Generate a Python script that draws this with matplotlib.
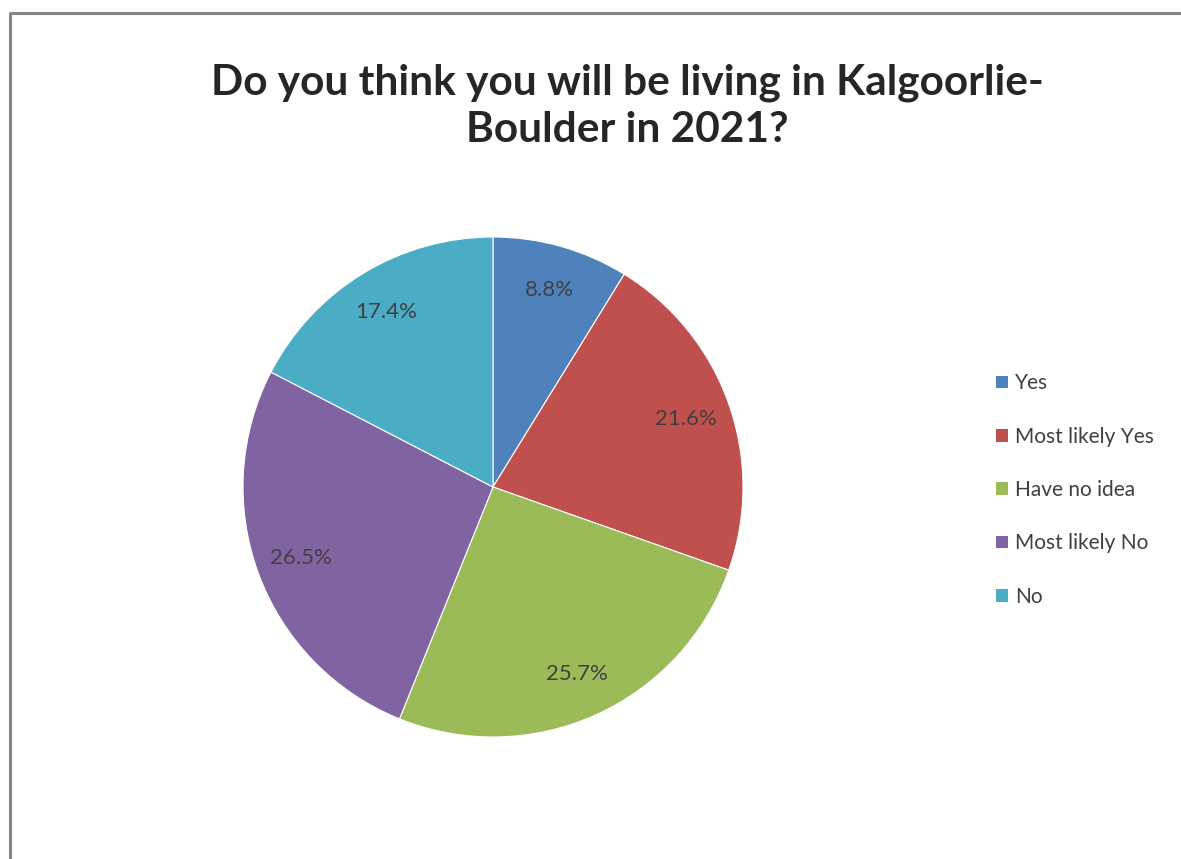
import matplotlib
matplotlib.use("Agg")
import matplotlib.pyplot as plt
from matplotlib.lines import Line2D
from matplotlib.patches import Patch

categories = ["Yes", "Most likely Yes", "Have no idea", "Most likely No", "No"]
values = [8.8, 21.6, 25.7, 26.5, 17.4]
colors = ["#4F81BD", "#C0504D", "#9BBB59", "#8064A2", "#4BACC6"]
title = "Do you think you will be living in Kalgoorlie-\nBoulder in 2021?"

plt.rcParams['font.family'] = ['Lato', 'DejaVu Sans']

W, H = 1181, 859
fig = plt.figure(figsize=(W / 100, H / 100), dpi=100)
fig.patch.set_facecolor("white")

# border (top and left)
fig.add_artist(Line2D([10 / W, 10 / W, 1.0], [0.0, 1 - 12.5 / H, 1 - 12.5 / H],
                      transform=fig.transFigure, color="#868686", lw=2.2))

cx, cy, R = 493, 487, 250
ax = fig.add_axes([(cx - R) / W, (H - cy - R) / H, 2 * R / W, 2 * R / H])
wedges, texts, autotexts = ax.pie(values, colors=colors, startangle=90, counterclock=False,
                                  autopct="%.1f%%", pctdistance=0.82, radius=1,
                                  wedgeprops=dict(edgecolor="white", linewidth=0.8),
                                  textprops=dict(fontsize=16, color="#404040"))
ax.set_xlim(-1, 1)
ax.set_ylim(-1, 1)
ax.set_aspect("equal")
ax.axis("off")

fig.text(627 / W, 1 - 106 / H, title, ha="center", va="center", fontsize=30.5,
         fontweight="bold", color="#262626", linespacing=1.3)

handles = [Patch(facecolor=c, edgecolor="none") for c in colors]
leg = fig.legend(handles, categories, loc="upper left", bbox_to_anchor=(986 / W, 1 - 363 / H),
                 frameon=False, prop=dict(size=15), labelspacing=1.6,
                 handlelength=0.55, handleheight=0.55, handletextpad=0.35, borderpad=0)
for t in leg.get_texts():
    t.set_color("#404040")

fig.savefig("out.png", dpi=100)
